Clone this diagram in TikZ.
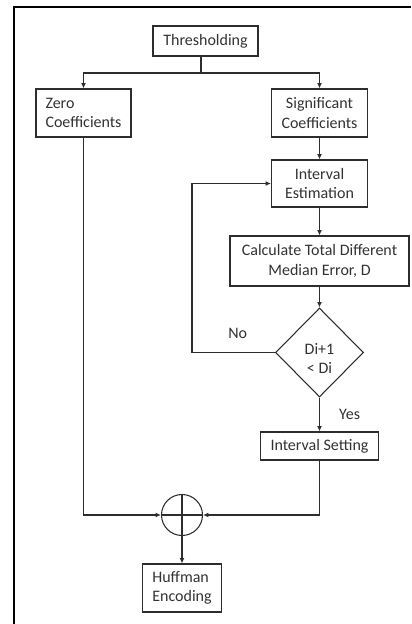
\documentclass[tikz,border=0pt]{standalone}
\usepackage{fontspec}
\setmainfont{Carlito}
\usetikzlibrary{arrows.meta,shapes.geometric,positioning}
\definecolor{cline}{RGB}{45,45,45}
\definecolor{ctext}{RGB}{50,50,50}
\tikzset{flow/.style={x=0.75pt,y=-0.75pt,font=\fontsize{12}{14.5}\selectfont,
    >={Latex[length=4pt,width=3.6pt]}},
  box/.style={draw=cline,line width=0.8pt,text=ctext,align=center,inner sep=2pt},
  link/.style={draw=cline,line width=0.9pt}}

\begin{document}
\begin{tikzpicture}[flow]
    \def\cx{319.5}\def\lx{83.5}\def\mx{182}
    \useasboundingbox (0,0) rectangle (411,624);
    \draw[black,line width=1.5pt] (14,624) -- (14,7) -- (411,7);
    \node[box,minimum width=78.75pt,minimum height=22.5pt] (thr) at (205.5,41) {Thresholding};
    \node[box,align=left,minimum width=71.25pt,minimum height=36pt] (zero) at (\lx,113) {Zero\\Coefficients};
    \node[box,minimum width=72pt,minimum height=36pt] (sig) at (\cx,113) {Significant\\Coefficients};
    \node[box,minimum width=72pt,minimum height=35.25pt] (est) at (\cx,183.5) {Interval\\Estimation};
    \node[box,minimum width=134.25pt,minimum height=37.5pt] (calc) at (\cx,261) {Calculate Total Different\\Median Error, D};
    \node[box,diamond,inner sep=0pt,minimum width=66pt,minimum height=66.75pt] (dec) at (\cx,352.5) {\rule{0pt}{17pt}Di+1\\{<} Di};
    \node[box,minimum width=88.5pt,minimum height=21pt] (set) at (\cx,446) {Interval Setting};
    \node[box,circle,minimum size=30.75pt,inner sep=0pt] (sum) at (\mx,515) {};
    \node[box,align=left,minimum width=59.25pt,minimum height=36pt] (huff) at (\mx,588) {Huffman\\Encoding};
    \coordinate (br) at (201,73);
    \coordinate (lp) at (192,352.5);
    \draw[link,line width=2pt] (br) -- (br |- thr.south);
    \draw[link,->] (br) -| (zero.north);
    \draw[link,->] (br) -| (sig.north);
    \draw[link,->] (sig) -- (est);
    \draw[link,->] (est) -- (calc);
    \draw[link,->] (calc) -- (dec);
    \draw[link,->] (dec.west) -- node[above=7pt,pos=0.45,text=ctext] {No} (lp) |- (est.west);
    \draw[link,->] (dec) -- node[right=11pt,text=ctext] {Yes} (set);
    \draw[link] (sum.north) -- (sum.south) (sum.west) -- (sum.east);
    \draw[link,->] (zero.south) |- (sum.west);
    \draw[link,->] (set.south) |- (sum.east);
    \draw[link,->] (sum) -- (huff);
  \end{tikzpicture}
\end{document}
